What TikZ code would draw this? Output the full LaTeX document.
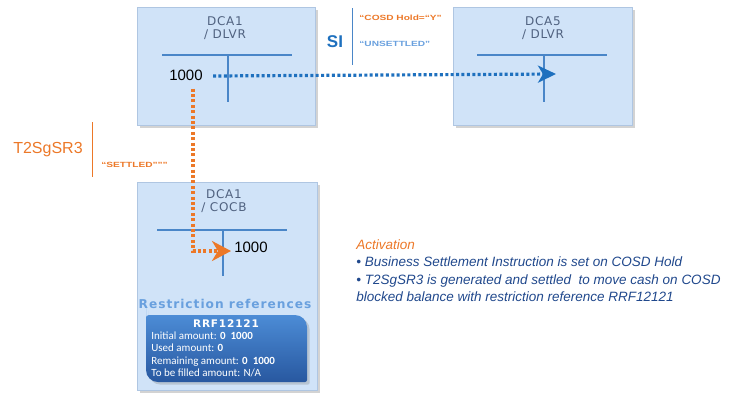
\documentclass[tikz,border=0pt]{standalone}
\usepackage{fontspec}
\setmainfont{Liberation Sans}
\newfontfamily\titlefont[LetterSpace=6]{DejaVu Sans}
\newfontfamily\reffont[LetterSpace=8]{DejaVu Sans}
\newfontfamily\flagfont[FakeStretch=1.35]{Liberation Sans}
\newfontfamily\calfont{Carlito}
\usetikzlibrary{arrows.meta, shadows}
\definecolor{boxfill}{RGB}{208,227,248}
\definecolor{boxedge}{RGB}{175,198,226}
\definecolor{tblue}{RGB}{74,134,200}
\definecolor{dotblue}{RGB}{30,112,190}
\definecolor{dotorange}{RGB}{236,120,40}
\definecolor{titlegray}{RGB}{80,98,128}
\definecolor{refblue}{RGB}{105,160,222}
\definecolor{darkblue}{RGB}{32,72,140}
\tikzset{every picture/.style={line width=0.75pt}}

\begin{document}
\begin{tikzpicture}[x=1pt,y=-1pt,
    account/.style={draw=boxedge, fill=boxfill, line width=1pt, drop shadow={opacity=0.35}},
    title/.style={font=\titlefont\fontsize{12}{13}\selectfont, text=titlegray, align=center, inner sep=0pt},
    tline/.style={tblue, line width=2.5pt},
    amount/.style={font=\fontsize{15}{16}\selectfont, inner sep=1pt},
    flag/.style={font=\flagfont\bfseries\fontsize{7.5}{8}\selectfont, inner sep=0pt, anchor=west},
    move/.style={line width=3.2pt, dash pattern=on 3pt off 2.4pt}]
    \useasboundingbox (0,0) rectangle (733,394);

    % accounts
    \node[account, minimum width=178pt, minimum height=118pt] (dlvr1) at (226,66) {};
    \node[account, minimum width=179pt, minimum height=118pt] (dlvr5) at (542.5,66) {};
    \node[account, minimum width=180pt, minimum height=208pt] (cocb1) at (227,286) {};
    \node[title] (t1) at (225,28) {DCA1\\/ DLVR};
    \node[title] (t5) at (543,28) {DCA5\\/ DLVR};
    \node[title] (t3) at (224,201) {DCA1\\/ COCB};

    \draw[tline] (162,55) -- (292,55) (228,55) -- (228,102);
    \draw[tline] (477,55) -- (607,55) (544,55) -- (544,102);
    \draw[tline] (157,230) -- (287,230) (223,230) -- (223,276);

    \node[amount] (amt1) at (186,75) {1000};
    \node[amount] (amt3) at (251,247) {1000};
    \coordinate (in5) at (556,74);
    \coordinate (in3) at (231,251);

    % movements
    \draw[dotblue, move, -{Stealth[length=18pt,width=17pt,inset=5pt]}]
        ([xshift=9pt,yshift=-1pt]amt1.east) -- (in5);
    \draw[dotorange, move, -{Stealth[length=19pt,width=20pt,inset=6pt]}]
        ([xshift=7pt,yshift=-7pt]amt1.south) |- (in3);

    % instructions
    \node[font=\bfseries\fontsize{17}{18}\selectfont, text=dotblue] (si) at (335,42) {SI};
    \draw[tblue, line width=0.8pt] (352,8) -- (352,65);
    \node[flag, text=dotorange] (hold) at (359,18) {“COSD Hold=“Y”};
    \node[flag, text=refblue] (unset) at (359,44) {“UNSETTLED”};

    \node[font=\fontsize{16}{18}\selectfont, text=dotorange] (sr3) at (48,150) {T2SgSR3};
    \draw[dotorange, line width=0.8pt] (92,122) -- (92,177);
    \node[flag, text=dotorange] (sett) at (101,165) {“SETTLED”””};

    % restriction
    \node[font=\reffont\bfseries\fontsize{12.2}{14}\selectfont, text=refblue] (rref) at (225,304) {Restriction references};
    \shade[top color={rgb,255:red,76;green,140;blue,214}, bottom color={rgb,255:red,40;green,88;blue,160}, drop shadow={opacity=0.3}]
        (146,320) [rounded corners=3pt] -- (146,315) [rounded corners=12pt] -- (307,315) [rounded corners=2pt] -- (307,382) [rounded corners=12pt] -- (146,382) -- cycle;
    \node[font=\reffont\bfseries\fontsize{10.5}{12}\selectfont, text=white] (rrf) at (226,324) {RRF12121};
    \node[font=\calfont\fontsize{11}{12.3}\selectfont, text=white, align=left, anchor=north west, inner sep=0pt] (rrfdata) at (151,331.5)
        {Initial amount: \textbf{0\ \ 1000}\\Used amount: \textbf{0}\\Remaining amount: \textbf{0\ \ 1000}\\To be filled amount: N/A};

    % activation
    \node[font=\itshape\fontsize{13.5}{17.6}\selectfont, text=darkblue, align=left, anchor=north west, inner sep=0pt] (act) at (356,239)
        {\textcolor{dotorange}{Activation}\\
         • Business Settlement Instruction is set on COSD Hold\\
         • T2SgSR3 is generated and settled\ \ to move cash on COSD\\
         blocked balance with restriction reference RRF12121};
\end{tikzpicture}
\end{document}
